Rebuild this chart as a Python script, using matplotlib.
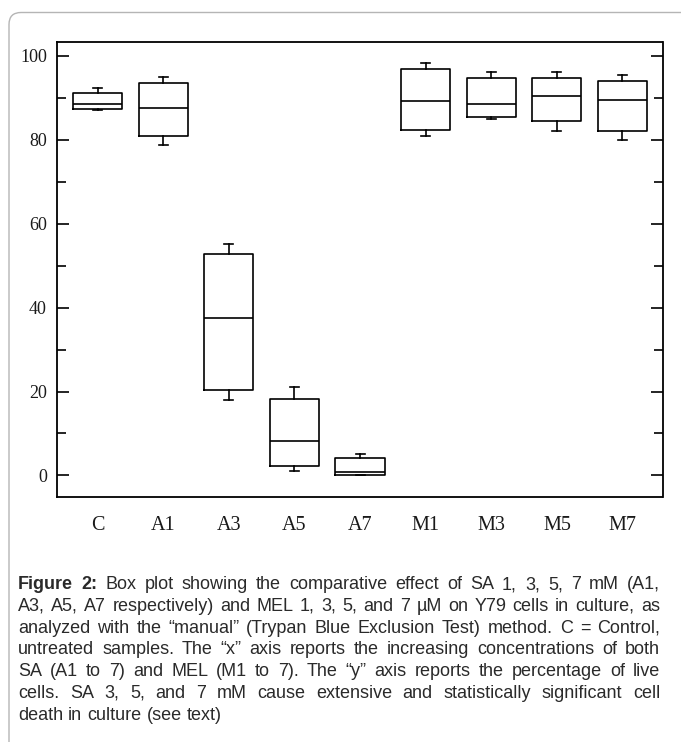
import matplotlib
matplotlib.use("Agg")
import matplotlib.pyplot as plt
from matplotlib.patches import FancyBboxPatch
from matplotlib.ticker import MultipleLocator

# ---- data ----
groups = ["C", "A1", "A3", "A5", "A7", "M1", "M3", "M5", "M7"]
whislo = [87.0, 78.8, 17.9, 1.1, 0.0, 80.9, 84.9, 82.0, 80.0]
q1     = [87.2, 80.8, 20.3, 2.2, 0.0, 82.2, 85.4, 84.4, 82.0]
med    = [88.4, 87.6, 37.4, 8.3, 0.8, 89.1, 88.5, 90.4, 89.5]
q3     = [91.2, 93.5, 52.7, 18.2, 4.1, 96.8, 94.7, 94.7, 93.9]
whishi = [92.2, 94.9, 55.1, 21.1, 5.0, 98.2, 96.0, 96.2, 95.4]

caption_lines = [
    "Figure 2: Box plot showing the comparative effect of SA 1, 3, 5, 7 mM (A1,",
    "A3, A5, A7 respectively) and MEL 1, 3, 5, and 7 \u00b5M on Y79 cells in culture, as",
    "analyzed with the \u201cmanual\u201d (Trypan Blue Exclusion Test) method. C = Control,",
    "untreated samples. The \u201cx\u201d axis reports the increasing concentrations of both",
    "SA (A1 to 7) and MEL (M1 to 7). The \u201cy\u201d axis reports the percentage of live",
    "cells. SA 3, 5, and 7 mM cause extensive and statistically significant cell",
    "death in culture (see text)",
]

W, H = 681, 742
fig = plt.figure(figsize=(W / 100, H / 100), dpi=100)

serif = ["Liberation Serif", "DejaVu Serif"]

ax = fig.add_axes([56.7 / W, 1 - 496.7 / H, (662.5 - 56.7) / W, (496.7 - 41.7) / H])
stats = []
for g, lo, a, m, b, hi in zip(groups, whislo, q1, med, q3, whishi):
    stats.append(dict(label=g, whislo=lo, q1=a, med=m, q3=b, whishi=hi, fliers=[]))
positions = list(range(1, len(groups) + 1))
lw = 1.2
ax.bxp(stats, positions=positions, widths=0.75, capwidths=0.14, showfliers=False,
       boxprops=dict(color="black", linewidth=lw),
       medianprops=dict(color="black", linewidth=lw),
       whiskerprops=dict(color="black", linewidth=lw),
       capprops=dict(color="black", linewidth=lw))
ax.set_xlim(0.375, 9.61)
ax.set_ylim(-5.05, 103.3)
for s in ax.spines.values():
    s.set_linewidth(1.3)
ax.yaxis.set_major_locator(MultipleLocator(20))
ax.yaxis.set_minor_locator(MultipleLocator(10))
ax.tick_params(axis="y", which="major", direction="in", length=8.6, width=1.2,
               left=True, right=True, pad=7, labelsize=13, labelcolor="#1a1a1a")
ax.tick_params(axis="y", which="minor", direction="in", length=6.5, width=1.2,
               left=True, right=True)
ax.tick_params(axis="x", which="both", length=0, pad=14, labelsize=14.5, labelcolor="#1a1a1a")
for lab in ax.get_xticklabels() + ax.get_yticklabels():
    lab.set_fontfamily(serif)

# ---- border ----
border = FancyBboxPatch((9, -40), 720, H - 12.5 + 40,
                        boxstyle="round,pad=0,rounding_size=12",
                        transform=None, fill=False, edgecolor="#b5b5b5", linewidth=1.0)
fig.patches.append(border)

# ---- caption (justified) ----
sans = ["Liberation Sans", "DejaVu Sans"]
cap_size = 13.0
x_left, x_right = 18, 660
base0 = 589
line_gap = 21.8
renderer = fig.canvas.get_renderer()
t1 = fig.text(0, 0, "a a", fontsize=cap_size, family=sans)
t2 = fig.text(0, 0, "aa", fontsize=cap_size, family=sans)
sp_nat = t1.get_window_extent(renderer).width - t2.get_window_extent(renderer).width
t1.remove(); t2.remove()
for i, line in enumerate(caption_lines):
    words = line.split(" ")
    y = 1 - (base0 + i * line_gap) / H
    arts = []
    for j, w in enumerate(words):
        bold = (i == 0 and j < 2)
        t = fig.text(0, y, w, fontsize=cap_size, family=sans, color="#2a2a2a",
                     fontweight="bold" if bold else "normal", va="baseline", ha="left")
        arts.append(t)
    widths = [a.get_window_extent(renderer).width for a in arts]
    if i < len(caption_lines) - 1:
        gap = (x_right - x_left - sum(widths)) / (len(words) - 1)
    else:
        gap = sp_nat
    x = x_left
    for a, wd in zip(arts, widths):
        a.set_x(x / W)
        x += wd + gap

fig.savefig("out.png", dpi=100)
